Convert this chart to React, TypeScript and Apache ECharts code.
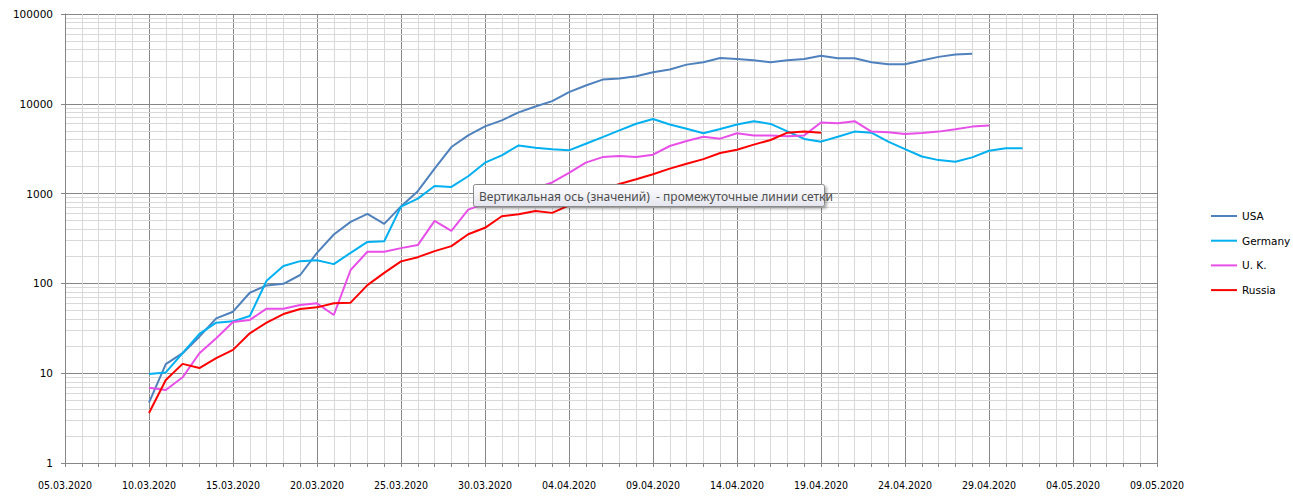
import React, { useEffect, useRef } from "react";
import * as echarts from "echarts";

const dates: string[] = [
  "10.03.2020", "11.03.2020", "12.03.2020", "13.03.2020", "14.03.2020", "15.03.2020", "16.03.2020",
  "17.03.2020", "18.03.2020", "19.03.2020", "20.03.2020", "21.03.2020", "22.03.2020", "23.03.2020",
  "24.03.2020", "25.03.2020", "26.03.2020", "27.03.2020", "28.03.2020", "29.03.2020", "30.03.2020",
  "31.03.2020", "01.04.2020", "02.04.2020", "03.04.2020", "04.04.2020", "05.04.2020", "06.04.2020",
  "07.04.2020", "08.04.2020", "09.04.2020", "10.04.2020", "11.04.2020", "12.04.2020", "13.04.2020",
  "14.04.2020", "15.04.2020", "16.04.2020", "17.04.2020", "18.04.2020", "19.04.2020", "20.04.2020",
  "21.04.2020", "22.04.2020", "23.04.2020", "24.04.2020", "25.04.2020", "26.04.2020", "27.04.2020",
  "28.04.2020", "29.04.2020", "30.04.2020", "01.05.2020",
];

const usa: number[] = [
  4.7, 12.6, 16.7, 25.5, 40.8, 48.4, 78.7, 95, 99, 124, 219, 350, 484, 594, 460, 720, 1065, 1896,
  3300, 4450, 5600, 6530, 8020, 9340, 10700, 13500, 16000, 18600, 19100, 20300, 22500, 24100, 27300,
  29000, 32400, 31600, 30500, 29000, 30500, 31600, 34200, 32200, 32200, 29000, 27600, 27600, 30300,
  33300, 35400, 36000,
];
const germany: number[] = [
  9.8, 10.2, 16.7, 27.4, 36.5, 37.8, 43.4, 107, 156, 177, 181, 164, 219, 290, 295, 715, 880, 1217,
  1186, 1560, 2210, 2670, 3440, 3240, 3110, 3030, 3590, 4260, 5060, 6000, 6760, 5890, 5280, 4700,
  5250, 5880, 6400, 5970, 4940, 4060, 3790, 4300, 4900, 4770, 3790, 3130, 2590, 2360, 2260, 2530,
  3000, 3190, 3190,
];
const uk: number[] = [
  6.9, 6.5, 9.0, 16.7, 24.5, 37.2, 39.2, 52.3, 52.3, 57.4, 60, 44.5, 141, 225, 225, 247, 267, 497,
  384, 664, 774, 900, 1000, 1150, 1330, 1700, 2210, 2550, 2620, 2550, 2710, 3390, 3850, 4300, 4090,
  4700, 4430, 4430, 4350, 4450, 6180, 6080, 6400, 4900, 4830, 4620, 4740, 4900, 5200, 5570, 5720,
];
const russia: number[] = [
  3.6, 8.4, 12.7, 11.4, 14.7, 18.2, 27.8, 36.5, 45.6, 51.9, 54.1, 60, 61, 95.8, 131, 176, 196, 229,
  260, 353, 416, 560, 589, 641, 610, 741, 870, 1100, 1280, 1443, 1640, 1896, 2150, 2420, 2830, 3080,
  3510, 3950, 4770, 4900, 4770,
];

const seriesNames = ["USA", "Germany", "U. K.", "Russia"];
const seriesColors = ["#4F81BD", "#00B0F0", "#E84FE8", "#FF0000"];
const axisStart = "05.03.2020";
const axisEnd = "09.05.2020";
const yTicks = [1, 10, 100, 1000, 10000, 100000];
const minorMults = [2, 3, 4, 5, 6, 7, 8, 9];
const hintText = "Вертикальная ось (значений)  - промежуточные линии сетки";

const DAY = 86400000;
function parseDate(s: string): number {
  const [d, m, y] = s.split(".").map(Number);
  return Date.UTC(y, m - 1, d);
}
const t0 = parseDate(axisStart);
const dayIdx = (s: string) => Math.round((parseDate(s) - t0) / DAY);
function fmt(v: number): string {
  const dt = new Date(t0 + Math.round(v) * DAY);
  const dd = String(dt.getUTCDate()).padStart(2, "0");
  const mm = String(dt.getUTCMonth() + 1).padStart(2, "0");
  return `${dd}.${mm}.${dt.getUTCFullYear()}`;
}

export default function App() {
  const ref = useRef<HTMLDivElement>(null);
  useEffect(() => {
    if (!ref.current) return;
    const chart = echarts.init(ref.current, undefined, { renderer: "svg" });
    const values = [usa, germany, uk, russia];
    const minorLines: { yAxis: number }[] = [];
    for (let i = 0; i < yTicks.length - 1; i++) {
      for (const m of minorMults) minorLines.push({ yAxis: yTicks[i] * m });
    }
    const series: any[] = [
      {
        name: "__minor",
        type: "line",
        data: [],
        silent: true,
        z: 0,
        markLine: {
          z: 0,
          silent: true,
          symbol: "none",
          animation: false,
          label: { show: false },
          lineStyle: { color: "#D9D9D9", width: 1, type: "solid" },
          data: minorLines,
        },
      },
    ];
    values.forEach((arr, k) => {
      series.push({
        name: seriesNames[k],
        type: "line",
        showSymbol: false,
        symbol: "none",
        z: 3,
        lineStyle: { color: seriesColors[k], width: 2, type: "solid" },
        itemStyle: { color: seriesColors[k] },
        data: arr.map((v, i) => [dayIdx(dates[i]), v]),
      });
    });

    chart.setOption({
      animation: false,
      backgroundColor: "#ffffff",
      grid: { left: 65, right: 136, top: 14, bottom: 34, containLabel: false },
      legend: {
        orient: "vertical",
        left: 1206,
        top: 204,
        itemWidth: 26,
        itemHeight: 2,
        itemGap: 10.7,
        icon: "rect",
        data: seriesNames,
        textStyle: {
          fontFamily: "DejaVu Sans",
          fontSize: 10.5,
          color: "#000",
          lineHeight: 14,
        },
      },
      xAxis: {
        type: "value",
        min: dayIdx(axisStart),
        max: dayIdx(axisEnd),
        interval: 5,
        axisLine: { lineStyle: { color: "#868686", width: 1 } },
        axisTick: { show: true, length: 4, lineStyle: { color: "#868686" } },
        minorTick: { show: true, splitNumber: 5, length: 4, lineStyle: { color: "#868686" } },
        splitLine: { show: true, lineStyle: { color: "#868686", width: 1 } },
        minorSplitLine: { show: true, lineStyle: { color: "#D9D9D9", width: 1 } },
        axisLabel: {
          formatter: (v: number) => fmt(v),
          margin: 16,
          fontSize: 10.5,
          color: "#000",
          fontFamily: "'DejaVu Sans Condensed', 'Liberation Sans', sans-serif",
          showMinLabel: true,
          showMaxLabel: true,
        },
      },
      yAxis: {
        type: "log",
        logBase: 10,
        min: yTicks[0],
        max: yTicks[yTicks.length - 1],
        axisLine: { show: true, lineStyle: { color: "#868686", width: 1 } },
        axisTick: { show: true, length: 4, lineStyle: { color: "#868686" } },
        splitLine: { show: true, lineStyle: { color: "#868686", width: 1 } },
        axisLabel: {
          formatter: (v: number) => String(Math.round(v)),
          margin: 12,
          fontSize: 10.5,
          color: "#000",
          fontFamily: "DejaVu Sans",
        },
      },
      graphic: [
        {
          type: "rect",
          z: 100,
          shape: { x: 473.5, y: 184.5, width: 351, height: 22, r: 2 },
          style: {
            fill: new echarts.graphic.LinearGradient(0, 0, 0, 1, [
              { offset: 0, color: "#FFFFFF" },
              { offset: 1, color: "#E4E5EE" },
            ]),
            stroke: "#8A8A8A",
            lineWidth: 1,
            shadowBlur: 3,
            shadowOffsetX: 2,
            shadowOffsetY: 2,
            shadowColor: "rgba(0,0,0,0.3)",
          },
        },
        {
          type: "text",
          z: 101,
          x: 479,
          y: 196,
          style: {
            text: hintText,
            fill: "#4D4D4D",
            fontSize: 12,
            fontFamily: "'Noto Sans', sans-serif",
            verticalAlign: "middle",
            align: "left",
          },
        },
      ],
      series,
    });
    return () => chart.dispose();
  }, []);
  return (
    <div
      ref={ref}
      style={{ position: "fixed", left: 0, top: 0, width: 1293, height: 497, background: "#fff" }}
    />
  );
}
